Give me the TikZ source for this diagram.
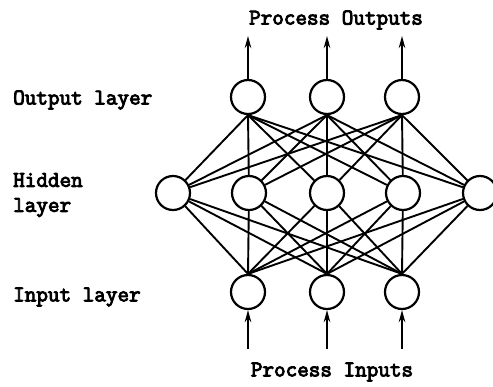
\documentclass[tikz,border=0pt]{standalone}
\usepackage{fontspec}
\newfontfamily\lbfont{Latin Modern Mono}[FakeBold=4]
\usetikzlibrary{arrows.meta}
\begin{document}
\begin{tikzpicture}[x=1pt,y=-1pt,
  neuron/.style={circle,draw,line width=2.2pt,minimum size=34pt,inner sep=0pt},
  link/.style={line width=1.9pt},
  flow/.style={line width=2.2pt,-{Stealth[length=12pt,width=6.5pt]}},
  lbl/.style={font=\fontsize{22.5}{25}\lbfont,inner sep=0pt}]
\useasboundingbox (0,0) rectangle (493,386);
% nodes
\foreach \n/\x in {1/248,2/327,3/402}{
  \node[neuron] (o\n) at (\x,97) {};
  \node[neuron] (i\n) at (\x,292) {};
}
\foreach \n/\x in {1/173,2/249,3/327,4/403,5/480}{
  \node[neuron] (h\n) at (\x,193) {};
}
% connections
\foreach \a in {1,2,3}{
  \foreach \b in {1,2,3,4,5}{
    \draw[link] (o\a.south) -- (h\b);
    \draw[link] (i\a.north) -- (h\b);
  }
}
% arrows
\foreach \n/\x in {1/248,2/327,3/402}{
  \coordinate (top\n) at (\x,36);
  \coordinate (bot\n) at (\x,349);
  \draw[flow] (o\n.north) -- (top\n);
  \draw[flow] (bot\n) -- (i\n.south);
}
% labels
\node[lbl] (po) at (336,20) {Process Outputs};
\node[lbl] (pi) at (332,372) {Process Inputs};
\node[lbl,anchor=west] (ol) at (13,100) {Output layer};
\node[lbl,anchor=west,align=left] (hl) at (13,195) {Hidden\\layer};
\node[lbl,anchor=west] (il) at (13,297) {Input layer};
\end{tikzpicture}
\end{document}
